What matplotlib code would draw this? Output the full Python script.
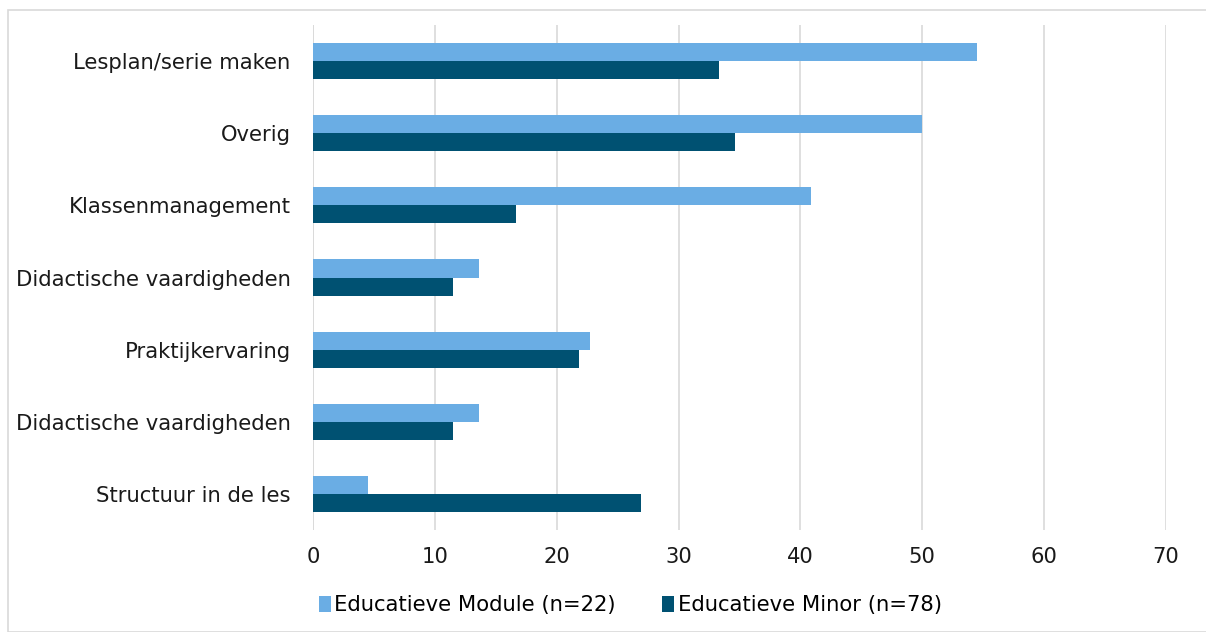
import matplotlib
matplotlib.use('Agg')
import matplotlib.pyplot as plt
import numpy as np
from matplotlib.patches import Rectangle

categories = ['Lesplan/serie maken', 'Overig', 'Klassenmanagement', 'Didactische vaardigheden',
              'Praktijkervaring', 'Didactische vaardigheden', 'Structuur in de les']
module_vals = [54.5, 50.0, 40.9, 13.6, 22.7, 13.6, 4.5]
minor_vals = [33.3, 34.6, 16.7, 11.5, 21.8, 11.5, 26.9]
series_names = ['Educatieve Module (n=22)', 'Educatieve Minor (n=78)']
xticks = [0, 10, 20, 30, 40, 50, 60, 70]

light = '#6AADE4'
dark = '#005172'
fs = 15.2

plt.rcParams['font.family'] = ['DejaVu Sans']
fig = plt.figure(figsize=(12.06, 6.32), dpi=100)
ax = fig.add_axes([0.2595, 0.1614, 0.7073, 0.799])

# rand om de figuur
fig.patches.append(Rectangle((8 / 1206, 0), 1.0, 1 - 10 / 632, transform=fig.transFigure,
                             fill=False, edgecolor='#D9D9D9', linewidth=1.2))

y = np.arange(len(categories))
h = 0.25
ax.barh(y - h / 2, module_vals, height=h, color=light, label=series_names[0], zorder=3)
ax.barh(y + h / 2, minor_vals, height=h, color=dark, label=series_names[1], zorder=3)

ax.set_ylim(len(categories) - 0.5, -0.5)
ax.set_xlim(0, 70)
ax.set_xticks(xticks)
ax.set_yticks(y)
ax.set_yticklabels(categories, fontsize=fs, color='#1a1a1a')
ax.tick_params(axis='x', labelsize=fs, length=0, pad=12, colors='#1a1a1a')
ax.tick_params(axis='y', length=0, pad=16)
ax.grid(axis='x', color='#D9D9D9', linewidth=1.2, zorder=0)
for s in ax.spines.values():
    s.set_visible(False)
ax.axvline(0, color='#D9D9D9', linewidth=1.2, zorder=0)

ax.legend(loc='upper center', bbox_to_anchor=(0.372, -0.1), ncol=2, frameon=False,
          fontsize=fs, handlelength=0.58, handleheight=0.8, handletextpad=0.15,
          columnspacing=2.2, borderaxespad=0.3)

plt.savefig('out.png', dpi=100)
plt.close()
